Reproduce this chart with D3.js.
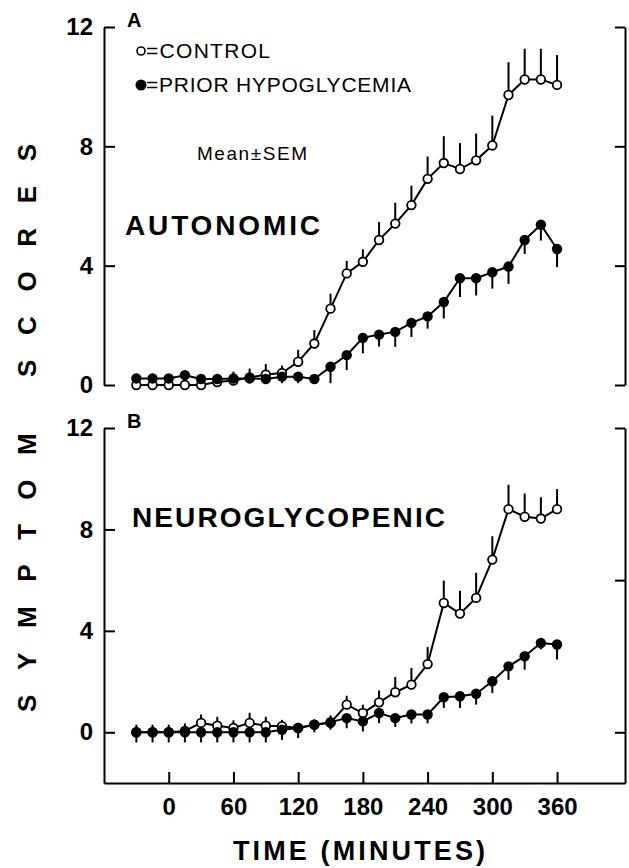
<!DOCTYPE html>
<html>
<head>
<meta charset="utf-8">
<script src="https://cdn.jsdelivr.net/npm/d3@7"></script>
<style>
  body { margin: 0; background: #fff; }
  svg { display: block; font-family: "Liberation Sans", Arial, Helvetica, sans-serif; }
  .axis path, .axis line { stroke: #000; stroke-width: 2; }
  .axis text { font-size: 24px; font-weight: bold; fill: #000; }
</style>
</head>
<body>
<script>
"use strict";

// sampling times (minutes)
var times = [-30, -15, 0, 15, 30, 45, 60, 75, 90, 105, 120, 135, 150, 165, 180,
  195, 210, 225, 240, 255, 270, 285, 300, 315, 330, 345, 360];

// panel A: autonomic scores
var auto_control = [0, 0, 0, 0, 0, 0.1, 0.15, 0.25, 0.35, 0.4, 0.78, 1.39, 2.56, 3.74,
  4.13, 4.86, 5.41, 6.03, 6.91, 7.44, 7.24, 7.53, 8.03, 9.72, 10.24, 10.24, 10.06];
var auto_control_sem = [0, 0, 0, 0, 0, 0.05, 0.3, 0.3, 0.35, 0.25, 0.4, 0.45, 0.5, 0.42,
  0.42, 0.6, 0.7, 0.65, 0.75, 0.9, 0.87, 0.9, 1.0, 1.1, 1.03, 1.03, 1.0];
var auto_prior = [0.22, 0.22, 0.22, 0.33, 0.2, 0.2, 0.22, 0.22, 0.2, 0.28, 0.28, 0.2, 0.61,
  1.0, 1.58, 1.69, 1.78, 2.08, 2.3, 2.78, 3.58, 3.58, 3.78, 3.97, 4.86, 5.37, 4.56];
var auto_prior_sem = [0, 0, 0, 0, 0, 0, 0.1, 0.1, 0.1, 0.22, 0.22, 0.1, 0.55, 0.5,
  0.52, 0.4, 0.5, 0.47, 0.41, 0.55, 0.63, 0.58, 0.55, 0.58, 0.47, 0.53, 0.61];

// panel B: neuroglycopenic scores
var neuro_control = [0, 0, 0, 0.05, 0.37, 0.26, 0.17, 0.37, 0.26, 0.24, 0.17, 0.3, 0.37,
  1.09, 0.76, 1.18, 1.58, 1.88, 2.69, 5.1, 4.68, 5.3, 6.81, 8.8, 8.5, 8.43, 8.8];
var neuro_control_sem = [0.3, 0.3, 0.3, 0.3, 0.33, 0.35, 0.3, 0.4, 0.35, 0.25, 0.2, 0.2,
  0.3, 0.35, 0.33, 0.47, 0.6, 0.66, 0.67, 0.88, 0.9, 0.99, 0.92, 0.96, 0.92, 0.84, 0.79];
var neuro_prior = [0, 0, 0, 0, 0, 0, 0, 0, 0, 0.1, 0.17, 0.3, 0.4, 0.56, 0.43, 0.76,
  0.56, 0.7, 0.7, 1.38, 1.42, 1.52, 2.01, 2.6, 3.0, 3.52, 3.46];
var neuro_prior_sem = [0.4, 0.4, 0.4, 0.4, 0.4, 0.4, 0.4, 0.4, 0.4, 0.4, 0.4, 0.3, 0.3,
  0.4, 0.4, 0.4, 0.35, 0.35, 0.35, 0.42, 0.46, 0.43, 0.46, 0.53, 0.53, 0.25, 0.59];

// tick labels
var x_ticks = [0, 60, 120, 180, 240, 300, 360];
var y_ticks = [0, 4, 8, 12];
var right_ticks_a = [0, 4, 8, 12];
var right_ticks_b = [0, 6, 12];

var width = 629,
  height = 868,
  x_left = 104,
  x_right = 625;

var svg = d3.select('body').append('svg')
  .attr('width', width)
  .attr('height', height);

var x = d3.scaleLinear()
  .domain([-60, 423])
  .range([x_left, x_right]);

function series(vals, sems) {
  return times.map((t, i) => ({t: t, v: vals[i], sem: sems[i]}));
}

function draw_panel(opt) {
  var y = d3.scaleLinear()
    .domain(opt.domain)
    .range(opt.range);

  var g = svg.append('g');

  // left axis, ticks pointing inward
  g.append('g')
    .attr('class', 'axis')
    .attr('transform', `translate(${x_left}, 0)`)
    .call(d3.axisLeft(y).tickValues(y_ticks).tickSizeInner(-11).tickSizeOuter(0)
      .tickPadding(11).tickFormat(d3.format('d')));

  // right axis
  g.append('g')
    .attr('class', 'axis')
    .attr('transform', `translate(${x_right}, 0)`)
    .call(d3.axisRight(y).tickValues(opt.right_ticks).tickSizeInner(-10)
      .tickSizeOuter(0).tickFormat(''));

  if (opt.x_axis) {
    g.append('g')
      .attr('class', 'axis')
      .attr('transform', `translate(0, ${opt.range[0]})`)
      .call(d3.axisBottom(x).tickValues(x_ticks).tickSizeInner(-11).tickSizeOuter(0)
        .tickPadding(15));
  }

  var line = d3.line()
    .x(d => x(d.t))
    .y(d => y(d.v));

  var control = series(opt.control, opt.control_sem),
    prior = series(opt.prior, opt.prior_sem);

  // error bars: control upward, prior downward
  g.append('g').selectAll('line')
    .data(control.filter(d => d.sem > 0))
    .join('line')
    .attr('x1', d => x(d.t)).attr('x2', d => x(d.t))
    .attr('y1', d => y(d.v)).attr('y2', d => y(d.v + d.sem))
    .attr('stroke', '#000').attr('stroke-width', 2);

  g.append('g').selectAll('line')
    .data(prior.filter(d => d.sem > 0))
    .join('line')
    .attr('x1', d => x(d.t)).attr('x2', d => x(d.t))
    .attr('y1', d => y(d.v)).attr('y2', d => y(d.v - d.sem))
    .attr('stroke', '#000').attr('stroke-width', 2);

  g.append('path')
    .datum(control)
    .attr('d', line)
    .attr('fill', 'none')
    .attr('stroke', '#000')
    .attr('stroke-width', 2);

  g.append('g').selectAll('circle')
    .data(control)
    .join('circle')
    .attr('cx', d => x(d.t))
    .attr('cy', d => y(d.v))
    .attr('r', 4.3)
    .attr('fill', '#fff')
    .attr('stroke', '#000')
    .attr('stroke-width', 1.8);

  g.append('path')
    .datum(prior)
    .attr('d', line)
    .attr('fill', 'none')
    .attr('stroke', '#000')
    .attr('stroke-width', 2);

  g.append('g').selectAll('circle')
    .data(prior)
    .join('circle')
    .attr('cx', d => x(d.t))
    .attr('cy', d => y(d.v))
    .attr('r', 5.2)
    .attr('fill', '#000');

  // panel letter
  g.append('text')
    .attr('x', 127)
    .attr('y', opt.range[1])
    .attr('font-size', 20)
    .attr('font-weight', 'bold')
    .text(opt.letter);

  // panel title
  g.append('text')
    .attr('x', opt.title_x)
    .attr('y', opt.title_y)
    .attr('font-size', 28)
    .attr('font-weight', 'bold')
    .attr('textLength', opt.title_len)
    .attr('lengthAdjust', 'spacing')
    .text(opt.title);

  return g;
}

var panel_a = draw_panel({
  domain: [0, 12], range: [385, 27],
  right_ticks: right_ticks_a,
  control: auto_control, control_sem: auto_control_sem,
  prior: auto_prior, prior_sem: auto_prior_sem,
  letter: 'A', title: 'AUTONOMIC', title_x: 125, title_y: 235, title_len: 195,
  x_axis: false
});

draw_panel({
  domain: [-2, 12], range: [783, 428],
  right_ticks: right_ticks_b,
  control: neuro_control, control_sem: neuro_control_sem,
  prior: neuro_prior, prior_sem: neuro_prior_sem,
  letter: 'B', title: 'NEUROGLYCOPENIC', title_x: 132, title_y: 527, title_len: 313,
  x_axis: true
});

// legend
panel_a.append('circle')
  .attr('cx', 141).attr('cy', 51).attr('r', 4)
  .attr('fill', '#fff').attr('stroke', '#000').attr('stroke-width', 1.6);
panel_a.append('text')
  .attr('x', 146).attr('y', 58)
  .attr('font-size', 21)
  .attr('textLength', 124).attr('lengthAdjust', 'spacing')
  .text('=CONTROL');

panel_a.append('circle')
  .attr('cx', 141).attr('cy', 85).attr('r', 5.5)
  .attr('fill', '#000');
panel_a.append('text')
  .attr('x', 146).attr('y', 92)
  .attr('font-size', 21)
  .attr('textLength', 265).attr('lengthAdjust', 'spacing')
  .text('=PRIOR HYPOGLYCEMIA');

panel_a.append('text')
  .attr('x', 197).attr('y', 160)
  .attr('font-size', 19)
  .attr('textLength', 110).attr('lengthAdjust', 'spacing')
  .text('Mean\u00b1SEM');

// axis titles
svg.append('text')
  .attr('transform', 'translate(36, 428) rotate(-90)')
  .attr('text-anchor', 'middle')
  .attr('font-size', 26)
  .attr('font-weight', 'bold')
  .attr('textLength', 568).attr('lengthAdjust', 'spacing')
  .text('SYMPTOM SCORES');

svg.append('text')
  .attr('x', 359).attr('y', 860)
  .attr('text-anchor', 'middle')
  .attr('font-size', 27)
  .attr('font-weight', 'bold')
  .attr('textLength', 252).attr('lengthAdjust', 'spacing')
  .text('TIME (MINUTES)');
</script>
</body>
</html>
